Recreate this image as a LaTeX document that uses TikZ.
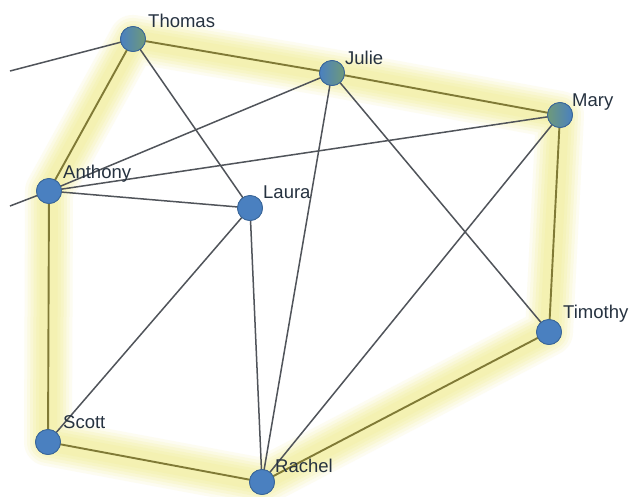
\documentclass[tikz,border=0pt]{standalone}
\usepackage{fontspec}
\setmainfont{Liberation Sans}
\definecolor{edgegrey}{HTML}{50545A}
\definecolor{olive}{HTML}{807A36}
\definecolor{nodeblue}{HTML}{4A80C0}
\definecolor{nodeedge}{HTML}{3A6698}
\definecolor{nodegreen}{HTML}{6E9A7A}
\definecolor{labelc}{HTML}{263240}
\definecolor{glowbase}{HTML}{EFEA8E}
\begin{document}
\begin{tikzpicture}[x=1pt,y=-1pt,
  person/.style={circle,minimum size=25pt,inner sep=0pt,draw=nodeedge,line width=0.8pt,fill=nodeblue},
  greenperson/.style={person,left color=nodeblue,right color=nodegreen},
  greenpersonr/.style={person,left color=nodegreen,right color=nodeblue},
  lbl/.style={anchor=base west,text=labelc,font=\fontsize{18.5}{20}\selectfont,inner sep=0pt},
  link/.style={draw=edgegrey,line width=1.5pt},
  hlink/.style={draw=olive,line width=1.9pt},
  glow/.style={line cap=round,line join=round}
]
\useasboundingbox (0,0) rectangle (642,496);
\fill[white] (0,0) rectangle (642,496);

% node coordinates
\coordinate (cT) at (133,39);
\coordinate (cJ) at (332,73);
\coordinate (cM) at (560,115);
\coordinate (cA) at (49,191);
\coordinate (cL) at (250,208);
\coordinate (cTi) at (549,332);
\coordinate (cS) at (48,442);
\coordinate (cR) at (262,482);
\coordinate (offT) at (10,71);
\coordinate (offA) at (10,206);

% soft glow of the highlighted cycle
\foreach \w/\p in {48/12,42/25,36/38,30/50,24/60,18/68}{
  \draw[glow,line width=\w pt,glowbase!\p!white] (cT) -- (cJ) -- (cM) -- (cTi) -- (cR) -- (cS) -- (cA) -- cycle;
}

% nodes
\node[greenperson] (T) at (cT) {};
\node[greenperson] (J) at (cJ) {};
\node[greenpersonr] (M) at (cM) {};
\node[person] (A) at (cA) {};
\node[person] (L) at (cL) {};
\node[person] (Ti) at (cTi) {};
\node[person] (S) at (cS) {};
\node[person] (R) at (cR) {};

% grey connectors
\draw[link] (T.center) -- (offT);
\draw[link] (A.center) -- (offA);
\draw[link] (T.center) -- (L.center);
\draw[link] (A.center) -- (J.center);
\draw[link] (A.center) -- (M.center);
\draw[link] (A.center) -- (L.center);
\draw[link] (L.center) -- (S.center);
\draw[link] (L.center) -- (R.center);
\draw[link] (J.center) -- (R.center);
\draw[link] (J.center) -- (Ti.center);
\draw[link] (M.center) -- (R.center);
% highlighted connectors
\draw[hlink] (T.center) -- (J.center);
\draw[hlink] (J.center) -- (M.center);
\draw[hlink] (M.center) -- (Ti.center);
\draw[hlink] (Ti.center) -- (R.center);
\draw[hlink] (R.center) -- (S.center);
\draw[hlink] (S.center) -- (A.center);
\draw[hlink] (A.center) -- (T.center);

% redraw nodes on top of connectors
\node[greenperson] at (cT) {};
\node[greenperson] at (cJ) {};
\node[greenpersonr] at (cM) {};
\node[person] at (cA) {};
\node[person] at (cL) {};
\node[person] at (cTi) {};
\node[person] at (cS) {};
\node[person] at (cR) {};

% labels
\node[lbl] (lT) at (148,27) {Thomas};
\node[lbl] (lJ) at (345,64) {Julie};
\node[lbl] (lM) at (572,106) {Mary};
\node[lbl] (lA) at (63,178) {Anthony};
\node[lbl] (lL) at (263,198) {Laura};
\node[lbl] (lTi) at (563,318) {Timothy};
\node[lbl] (lS) at (63,428) {Scott};
\node[lbl] (lR) at (275,472) {Rachel};
\end{tikzpicture}
\end{document}
